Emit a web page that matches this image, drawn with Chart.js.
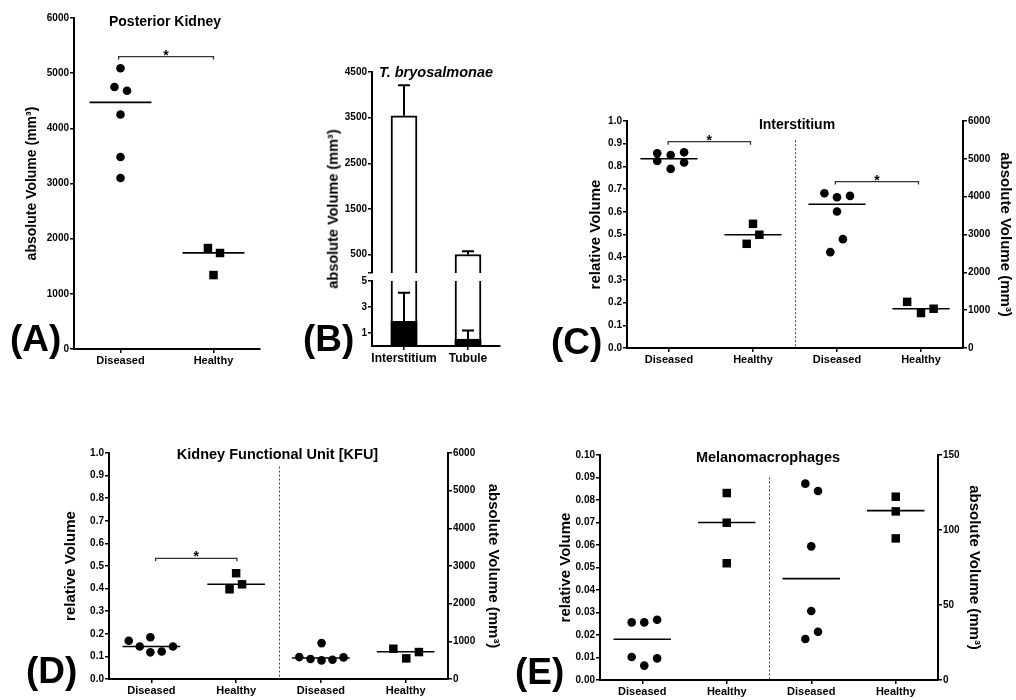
<!DOCTYPE html>
<html><head><meta charset="utf-8">
<script src="https://cdn.jsdelivr.net/npm/chart.js@4.4.1/dist/chart.umd.min.js"></script>
<style>
html,body{margin:0;padding:0;background:#fff;}
#wrap{position:relative;width:1016px;height:700px;overflow:hidden;background:#fff;font-family:'Liberation Sans',Arial,sans-serif;color:#000;}
canvas{position:absolute;left:0;top:0;pointer-events:none;}
.t{position:absolute;font-weight:bold;white-space:nowrap;line-height:1;transform:translate(-50%,-50%);}
.big{position:absolute;font-weight:bold;font-size:37px;line-height:1;white-space:nowrap;}
</style></head>
<body><div id="wrap">
<canvas id="cA" width="1016" height="700"></canvas>
<canvas id="cB1" width="1016" height="700"></canvas>
<canvas id="cB2" width="1016" height="700"></canvas>
<canvas id="cC" width="1016" height="700"></canvas>
<canvas id="cD" width="1016" height="700"></canvas>
<canvas id="cE" width="1016" height="700"></canvas>
<div class="t" style="left:165px;top:20.5px;font-size:14px">Posterior Kidney</div>
<div class="t" style="left:436px;top:72px;font-size:14.5px;font-style:italic">T. bryosalmonae</div>
<div class="t" style="left:333px;top:209px;font-size:14.5px;transform:translate(-50%,-50%) rotate(-90deg)">absolute Volume (mm³)</div>
<div class="t" style="left:797px;top:123.5px;font-size:14px">Interstitium</div>
<div class="t" style="left:277.5px;top:454px;font-size:14.5px">Kidney Functional Unit [KFU]</div>
<div class="t" style="left:768px;top:456.5px;font-size:14.5px">Melanomacrophages</div>
<div class="big" style="left:10px;top:320px">(A)</div>
<div class="big" style="left:303px;top:320px">(B)</div>
<div class="big" style="left:551px;top:323px">(C)</div>
<div class="big" style="left:26px;top:652px">(D)</div>
<div class="big" style="left:515px;top:653px">(E)</div>
</div>
<script>
// ---------- DATA ----------
// Panel A: Posterior Kidney (absolute volume, mm3)
const aCategories = ['Diseased', 'Healthy'];
const aDiseased = [5090, 4750, 4680, 4250, 3480, 3100];
const aDiseasedJitter = [0, -0.065, 0.07, 0, 0, 0];
const aHealthy = [1830, 1740, 1340];
const aHealthyJitter = [-0.06, 0.07, 0];
const aMeans = [4470, 1742];
const aBrackets = [{x1: 0.98, x2: 2.0, y: 5300, axis: 'y'}];

// Panel B: T. bryosalmonae
const bCategories = ['Interstitium', 'Tubule'];
const bTotal = [3540, 500];
const bTotalErr = [4210, 570];
const bInner = [1.9, 0.52];
const bInnerErr = [4.1, 1.2];
const bUpperTicks = [500, 1500, 2500, 3500, 4500];
const bLowerTicks = [1, 3, 5];

// Panel C: Interstitium
const cCategories = ['Diseased', 'Healthy', 'Diseased', 'Healthy'];
const cRelDiseased = [0.858, 0.824, 0.850, 0.789, 0.862, 0.817];
const cRelDiseasedJitter = [-0.14, -0.14, 0.02, 0.02, 0.18, 0.18];
const cRelHealthy = [0.547, 0.499, 0.459];
const cRelHealthyJitter = [0, 0.076, -0.075];
const cAbsDiseased = [4090, 3985, 4020, 3607, 2877, 2534];
const cAbsDiseasedJitter = [-0.15, 0, 0.155, 0, 0.07, -0.08];
const cAbsHealthy = [1220, 924, 1038];
const cAbsHealthyJitter = [-0.165, 0, 0.15];
const cMeans = [0.834, 0.499, 3800, 1038];
const cBrackets = [{x1: 0.99, x2: 1.97, y: 0.909, axis: 'y'}, {x1: 2.98, x2: 3.97, y: 4400, axis: 'y2'}];

// Panel D: Kidney Functional Unit
const dCategories = ['Diseased', 'Healthy', 'Diseased', 'Healthy'];
const dRelDiseased = [0.169, 0.144, 0.185, 0.118, 0.122, 0.144];
const dRelDiseasedJitter = [-0.267, -0.137, -0.012, -0.012, 0.122, 0.255];
const dRelHealthy = [0.468, 0.397, 0.419];
const dRelHealthyJitter = [0, -0.078, 0.07];
const dAbsDiseased = [582, 529, 953, 494, 512, 574];
const dAbsDiseasedJitter = [-0.255, -0.122, 0.008, 0.008, 0.137, 0.267];
const dAbsHealthy = [803, 547, 715];
const dAbsHealthyJitter = [-0.145, 0.008, 0.157];
const dMeans = [0.144, 0.419, 556, 724];
const dBrackets = [{x1: 1.05, x2: 2.01, y: 0.534, axis: 'y'}];

// Panel E: Melanomacrophages
const eCategories = ['Diseased', 'Healthy', 'Diseased', 'Healthy'];
const eRelDiseased = [0.0256, 0.0256, 0.0268, 0.0102, 0.0064, 0.0096];
const eRelDiseasedJitter = [-0.125, 0.024, 0.176, -0.125, 0.024, 0.176];
const eRelHealthy = [0.0831, 0.0699, 0.0519];
const eRelHealthyJitter = [0, 0, 0];
const eAbsDiseased = [130.9, 126.0, 89.1, 46.0, 32.2, 27.3];
const eAbsDiseasedJitter = [-0.07, 0.08, 0, 0, 0.08, -0.07];
const eAbsHealthy = [122.2, 112.4, 94.4];
const eAbsHealthyJitter = [0, 0, 0];
const eMeans = [0.0181, 0.070, 67.6, 112.9];

// ---------- HELPERS ----------
const FONT = "'Liberation Sans', Arial, sans-serif";
Chart.defaults.font.family = FONT;
Chart.defaults.color = '#000';

const annotate = {
  id: 'annotate',
  afterDatasetsDraw(chart, args, opts) {
    const ctx = chart.ctx, xs = chart.scales.x;
    if (opts.divider) {
      const ys = chart.scales.y;
      const x = Math.round(xs.getPixelForValue(opts.divider.x)) + 0.5;
      ctx.save();
      ctx.strokeStyle = '#444'; ctx.lineWidth = 1; ctx.setLineDash([2, 2]);
      ctx.beginPath(); ctx.moveTo(x, ys.getPixelForValue(opts.divider.top)); ctx.lineTo(x, chart.chartArea.bottom); ctx.stroke();
      ctx.restore();
    }
    (opts.brackets || []).forEach(b => {
      const ys = chart.scales[b.axis];
      const x1 = xs.getPixelForValue(b.x1), x2 = xs.getPixelForValue(b.x2), y = ys.getPixelForValue(b.y);
      ctx.save();
      ctx.strokeStyle = '#333'; ctx.lineWidth = 1.3;
      ctx.beginPath(); ctx.moveTo(x1, y + 3); ctx.lineTo(x1, y); ctx.lineTo(x2, y); ctx.lineTo(x2, y + 3); ctx.stroke();
      ctx.fillStyle = '#000'; ctx.font = 'bold 14px ' + FONT; ctx.textAlign = 'center'; ctx.textBaseline = 'alphabetic';
      ctx.fillText('*', (x1 + x2) / 2, y + 3);
      ctx.restore();
    });
    (opts.errors || []).forEach(e => {
      const meta = chart.getDatasetMeta(e.dataset);
      const ys = chart.scales.y;
      ctx.save();
      ctx.strokeStyle = '#000'; ctx.lineWidth = 2;
      meta.data.forEach((bar, i) => {
        const yTop = ys.getPixelForValue(e.values[i]);
        ctx.beginPath();
        ctx.moveTo(bar.x, bar.y); ctx.lineTo(bar.x, yTop);
        ctx.moveTo(bar.x - 6, yTop); ctx.lineTo(bar.x + 6, yTop);
        ctx.stroke();
      });
      ctx.restore();
    });
  }
};

function yAxis(o) {
  return {
    type: 'linear', position: o.position || 'left', min: o.min, max: o.max,
    afterBuildTicks: o.ticks ? (s => { s.ticks = o.ticks.map(v => ({value: v})); }) : undefined,
    ticks: {stepSize: o.step, callback: o.fmt, color: '#000', font: {family: FONT, size: 10, weight: 'bold'}, padding: 1},
    grid: {drawOnChartArea: false, drawTicks: true, tickLength: 4, color: '#000', lineWidth: 1.5},
    border: {color: '#000', width: 2},
    title: o.title ? {display: true, text: o.title, color: '#000', font: {family: FONT, size: o.titleSize || 15, weight: 'bold'},
      padding: {top: o.titlePad, bottom: o.titlePad}} : {display: false},
    afterFit: s => { s.width = o.width; }
  };
}

function xAxis(labels, min, max, h) {
  return {
    type: 'linear', position: 'bottom', min: min, max: max,
    afterBuildTicks: s => { s.ticks = labels.map((_, i) => ({value: i + 1})); },
    ticks: {autoSkip: false, maxRotation: 0, callback: (v, i) => labels[i], color: '#000', font: {family: FONT, size: 11, weight: 'bold'}, padding: 1},
    grid: {drawOnChartArea: false, drawTicks: true, tickLength: 4, color: '#000', lineWidth: 1.5},
    border: {color: '#000', width: 2},
    afterFit: s => { s.height = h; }
  };
}

function pts(vals, jit, cat, style, axis) {
  return {data: vals.map((v, i) => ({x: cat + jit[i], y: v})), yAxisID: axis, pointStyle: style,
    pointRadius: style === 'rect' ? 6 : 4.3, pointBackgroundColor: '#000', pointBorderWidth: 0, showLine: false, clip: false};
}
function mean(m, cat, axis, hw) {
  return {data: [{x: cat - hw, y: m}, {x: cat + hw, y: m}], yAxisID: axis, showLine: true,
    borderColor: '#000', borderWidth: 1.6, pointRadius: 0, clip: false};
}
function padFor(area, yW, y2W, xH) {
  return {left: area.l - yW, right: 1016 - area.r - (y2W || 0), top: area.t, bottom: 700 - area.b - xH};
}
const baseOpts = {responsive: false, animation: false, devicePixelRatio: 1, events: []};

// ---------- PANEL A ----------
new Chart(document.getElementById('cA'), {
  type: 'scatter',
  data: {datasets: [
    pts(aDiseased, aDiseasedJitter, 1, 'circle', 'y'),
    pts(aHealthy, aHealthyJitter, 2, 'rect', 'y'),
    mean(aMeans[0], 1, 'y', 0.333), mean(aMeans[1], 2, 'y', 0.333)
  ]},
  options: Object.assign({}, baseOpts, {
    layout: {padding: padFor({l: 74, t: 18, r: 260, b: 349}, 54, 0, 22)},
    plugins: {legend: {display: false}, tooltip: {enabled: false}, annotate: {brackets: aBrackets}},
    scales: {
      x: xAxis(aCategories, 0.5, 2.5, 22),
      y: yAxis({min: 0, max: 6000, step: 1000, width: 54, title: 'absolute Volume (mm³)', titleSize: 14, titlePad: 4})
    }
  }),
  plugins: [annotate]
});

// ---------- PANEL B (broken axis: upper + lower) ----------
const bBreak = 95;
const bUpperAxis = yAxis({min: bBreak, max: 4500, ticks: [bBreak].concat(bUpperTicks), width: 40});
bUpperAxis.ticks.callback = v => (v === bBreak ? '' : String(v));
new Chart(document.getElementById('cB1'), {
  type: 'bar',
  data: {labels: bCategories, datasets: [
    {data: bTotal, backgroundColor: '#fff', borderColor: '#000', borderWidth: 2, barThickness: 26, borderSkipped: 'start', clip: 0}
  ]},
  options: Object.assign({}, baseOpts, {
    layout: {padding: padFor({l: 372, t: 72, r: 500, b: 273}, 40, 0, 0)},
    plugins: {legend: {display: false}, tooltip: {enabled: false}, annotate: {errors: [{dataset: 0, values: bTotalErr}]}},
    scales: {
      x: {display: false, offset: true},
      y: bUpperAxis
    }
  }),
  plugins: [annotate]
});

new Chart(document.getElementById('cB2'), {
  type: 'bar',
  data: {labels: bCategories, datasets: [
    {data: bInner, backgroundColor: '#000', borderWidth: 0, barThickness: 26, grouped: false, clip: 0, order: 0},
    {data: bTotal, backgroundColor: '#fff', borderColor: '#000', borderWidth: 2, barThickness: 26, borderSkipped: 'start', grouped: false, clip: 0, order: 1}
  ]},
  options: Object.assign({}, baseOpts, {
    layout: {padding: padFor({l: 372, t: 281, r: 500, b: 346}, 40, 0, 20)},
    plugins: {legend: {display: false}, tooltip: {enabled: false}, annotate: {errors: [{dataset: 0, values: bInnerErr}]}},
    scales: {
      x: {type: 'category', offset: true,
        ticks: {autoSkip: false, color: '#000', font: {family: FONT, size: 12, weight: 'bold'}, padding: 1, maxRotation: 0},
        grid: {offset: false, drawOnChartArea: false, drawTicks: true, tickLength: 4, color: '#000', lineWidth: 1.5},
        border: {color: '#000', width: 2},
        afterFit: s => { s.height = 20; }},
      y: yAxis({min: 0, max: 5, ticks: bLowerTicks, width: 40})
    }
  }),
  plugins: [annotate]
});

// ---------- Dual panels C, D, E ----------
function dualPanel(id, c) {
  new Chart(document.getElementById(id), {
    type: 'scatter',
    data: {datasets: [
      pts(c.relD, c.relDJ, 1, 'circle', 'y'),
      pts(c.relH, c.relHJ, 2, 'rect', 'y'),
      pts(c.absD, c.absDJ, 3, 'circle', 'y2'),
      pts(c.absH, c.absHJ, 4, 'rect', 'y2'),
      mean(c.means[0], 1, 'y', 0.34), mean(c.means[1], 2, 'y', 0.34),
      mean(c.means[2], 3, 'y2', 0.34), mean(c.means[3], 4, 'y2', 0.34)
    ]},
    options: Object.assign({}, baseOpts, {
      layout: {padding: padFor(c.area, c.yW, c.y2W, c.xH)},
      plugins: {legend: {display: false}, tooltip: {enabled: false},
        annotate: {brackets: c.brackets, divider: {x: 2.5, top: c.divTop}}},
      scales: {
        x: xAxis(c.cats, 0.5, 4.5, c.xH),
        y: yAxis({min: 0, max: c.relMax, step: c.relStep, fmt: v => Number(v).toFixed(c.relDec), width: c.yW, title: 'relative Volume', titlePad: 4}),
        y2: yAxis({position: 'right', min: 0, max: c.absMax, step: c.absStep, fmt: v => String(Math.round(v)), width: c.y2W, title: 'absolute Volume (mm³)', titlePad: 2})
      }
    }),
    plugins: [annotate]
  });
}

dualPanel('cC', {cats: cCategories, relD: cRelDiseased, relDJ: cRelDiseasedJitter, relH: cRelHealthy, relHJ: cRelHealthyJitter,
  absD: cAbsDiseased, absDJ: cAbsDiseasedJitter, absH: cAbsHealthy, absHJ: cAbsHealthyJitter, means: cMeans, brackets: cBrackets,
  area: {l: 627, t: 121, r: 963, b: 348}, yW: 44, y2W: 53, xH: 22, relMax: 1, relStep: 0.1, relDec: 1, absMax: 6000, absStep: 1000, divTop: 0.915});

dualPanel('cD', {cats: dCategories, relD: dRelDiseased, relDJ: dRelDiseasedJitter, relH: dRelHealthy, relHJ: dRelHealthyJitter,
  absD: dAbsDiseased, absDJ: dAbsDiseasedJitter, absH: dAbsHealthy, absHJ: dAbsHealthyJitter, means: dMeans, brackets: dBrackets,
  area: {l: 109, t: 453, r: 448, b: 679}, yW: 51, y2W: 56, xH: 20, relMax: 1, relStep: 0.1, relDec: 1, absMax: 6000, absStep: 1000, divTop: 0.94});

dualPanel('cE', {cats: eCategories, relD: eRelDiseased, relDJ: eRelDiseasedJitter, relH: eRelHealthy, relHJ: eRelHealthyJitter,
  absD: eAbsDiseased, absDJ: eAbsDiseasedJitter, absH: eAbsHealthy, absHJ: eAbsHealthyJitter, means: eMeans, brackets: [],
  area: {l: 600, t: 455, r: 938, b: 680}, yW: 47, y2W: 47, xH: 20, relMax: 0.1, relStep: 0.01, relDec: 2, absMax: 150, absStep: 50, divTop: 0.09});
</script>
</body></html>
